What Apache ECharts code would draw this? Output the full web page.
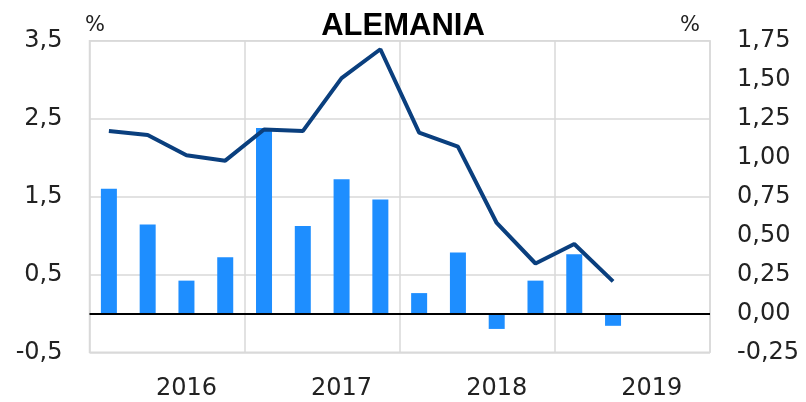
<!DOCTYPE html>
<html>
<head>
<meta charset="utf-8">
<script src="https://cdn.jsdelivr.net/npm/echarts@6/dist/echarts.min.js"></script>
<style>
  html, body { margin: 0; padding: 0; background: #fff; }
  #chart { width: 806px; height: 402px; }
</style>
</head>
<body>
<div id="chart"></div>
<script>
// trimestres 2016-2019
const quarters = [
  '2016 T1', '2016 T2', '2016 T3', '2016 T4',
  '2017 T1', '2017 T2', '2017 T3', '2017 T4',
  '2018 T1', '2018 T2', '2018 T3', '2018 T4',
  '2019 T1', '2019 T2', '2019 T3', '2019 T4'
]
// tasa interanual (eje izq.)
const interanual = [2.34, 2.29, 2.03, 1.96, 2.36, 2.34, 3.02, 3.39, 2.32, 2.14, 1.16, 0.64, 0.89, 0.41]
// tasa intertrimestral (eje dcho.)
const intertrimestral = [0.80, 0.57, 0.21, 0.36, 1.19, 0.56, 0.86, 0.73, 0.13, 0.39, -0.10, 0.21, 0.38, -0.08]

const font = 'DejaVu Sans'
const chart = echarts.init(document.getElementById('chart'))

chart.setOption({
  animation: false,
  textStyle: { fontFamily: font },
  title: {
    text: 'ALEMANIA',
    left: 'center',
    top: 6,
    textStyle: { fontFamily: 'Liberation Sans', fontSize: 31, fontWeight: 'bold', color: '#000' }
  },
  graphic: [
    { type: 'text', left: 85, top: 15, style: { text: '%', font: '21px ' + font, fill: '#222' } },
    { type: 'text', left: 680, top: 15, style: { text: '%', font: '21px ' + font, fill: '#222' } }
  ],
  grid: {
    left: 89.5,
    right: 96,
    top: 40.7,
    bottom: 49.7,
    show: true,
    borderColor: '#d9d9d9',
    borderWidth: 1.5
  },
  xAxis: {
    type: 'category',
    data: quarters,
    boundaryGap: true,
    axisLine: { show: false },
    axisTick: { show: false },
    axisLabel: {
      interval: (i) => i % 4 === 2,
      formatter: (v) => v.slice(0, 4),
      margin: 24,
      fontSize: 24,
      color: '#222'
    },
    splitLine: {
      show: true,
      interval: (i) => i % 4 === 0,
      lineStyle: { color: '#d9d9d9', width: 1.5 }
    }
  },
  yAxis: [
    {
      type: 'value',
      min: -0.5,
      max: 3.5,
      interval: 1,
      axisLine: { show: false },
      axisTick: { show: false },
      axisLabel: {
        margin: 27,
        fontSize: 24,
        color: '#222',
        formatter: (v) => v.toFixed(1).replace('.', ',')
      },
      splitLine: { lineStyle: { color: '#d9d9d9', width: 1.5 } }
    },
    {
      type: 'value',
      min: -0.25,
      max: 1.75,
      interval: 0.25,
      axisLine: { show: false },
      axisTick: { show: false },
      splitLine: { show: false },
      axisLabel: {
        margin: 27,
        fontSize: 24,
        color: '#222',
        formatter: (v) => v.toFixed(2).replace('.', ',')
      }
    }
  ],
  series: [
    {
      name: 'Intertrimestral',
      type: 'bar',
      yAxisIndex: 1,
      data: intertrimestral,
      barWidth: 16,
      itemStyle: { color: '#1e8eff' },
      markLine: {
        silent: true,
        symbol: 'none',
        label: { show: false },
        lineStyle: { color: '#000', width: 2, type: 'solid' },
        data: [{ yAxis: 0 }]
      }
    },
    {
      name: 'Interanual',
      type: 'line',
      yAxisIndex: 0,
      data: interanual,
      showSymbol: false,
      lineStyle: { color: '#0a3f7e', width: 4 },
      z: 5
    }
  ]
})
</script>
</body>
</html>
